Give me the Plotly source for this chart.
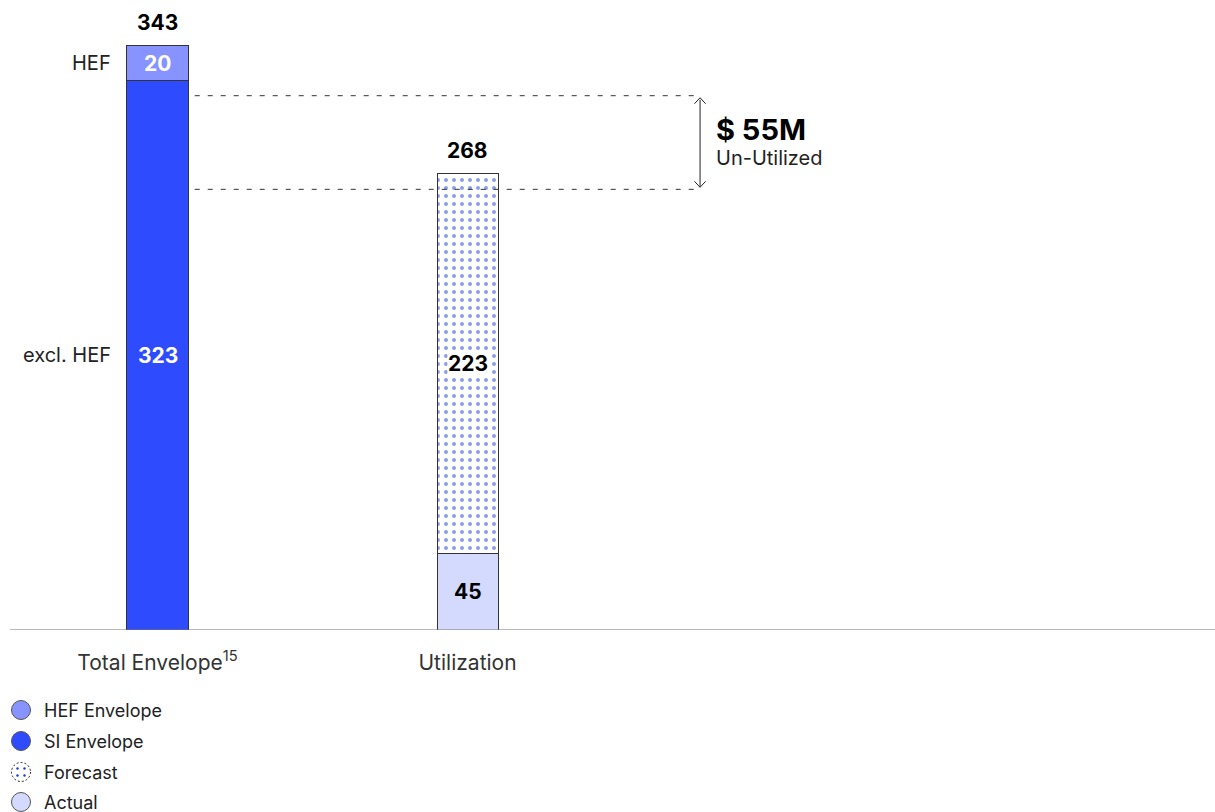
import plotly.graph_objects as go

categories = ["Total Envelope<sup>15</sup>", "Utilization"]
hef_envelope = [20, None]
si_envelope = [323, None]
actual = [None, 45]
forecast = [None, 223]
totals = [343, 268]
unutilized = 55

FONT = "Inter"
C_HEF = "#8794ff"
C_SI = "#2e4bfd"
C_ACT = "#d4dafe"
C_DOT = "#1c3acb"
C_EDGE = "#333333"

xs = [0, 1]
W = 0.197
fig = go.Figure()

fig.add_bar(x=xs, y=si_envelope, width=W, marker=dict(color=C_SI, line=dict(color=C_EDGE, width=1)),
            name="SI Envelope", showlegend=False)
fig.add_bar(x=xs, y=hef_envelope, width=W, marker=dict(color=C_HEF, line=dict(color=C_EDGE, width=1)),
            name="HEF Envelope", showlegend=False)
fig.add_bar(x=xs, y=actual, width=W, marker=dict(color=C_ACT, line=dict(color=C_EDGE, width=1)),
            name="Actual", showlegend=False)
fig.add_bar(x=xs, y=forecast, width=W,
            marker=dict(color="white", line=dict(color=C_EDGE, width=1),
                        pattern=dict(shape=".", fgcolor=C_DOT, bgcolor="white", size=8, solidity=0.2)),
            name="Forecast", showlegend=False)

NS = 21
ann = []
ann.append(dict(x=0, y=si_envelope[0] / 2, text=f"<b>{si_envelope[0]}</b>", showarrow=False,
                font=dict(color="white", size=NS, family=FONT)))
ann.append(dict(x=0, y=si_envelope[0] + hef_envelope[0] / 2, text=f"<b>{hef_envelope[0]}</b>", showarrow=False,
                font=dict(color="white", size=NS, family=FONT)))
ann.append(dict(x=1, y=actual[1] / 2, text=f"<b>{actual[1]}</b>", showarrow=False,
                font=dict(color="black", size=NS, family=FONT)))
ann.append(dict(x=1, y=actual[1] + forecast[1] / 2, text=f"<b>{forecast[1]}</b>", showarrow=False,
                font=dict(color="black", size=NS, family=FONT), bgcolor="white", borderpad=0))
for i, t in enumerate(totals):
    ann.append(dict(x=xs[i], y=t, text=f"<b>{t}</b>", showarrow=False, yanchor="middle", yshift=23,
                    font=dict(color="black", size=NS, family=FONT)))
ann.append(dict(x=-W / 2, y=si_envelope[0] + hef_envelope[0] / 2, text="HEF", showarrow=False, xanchor="right",
                xshift=-14, font=dict(color="#222", size=20, family=FONT)))
ann.append(dict(x=-W / 2, y=si_envelope[0] / 2, text="excl. HEF", showarrow=False, xanchor="right",
                xshift=-14, font=dict(color="#222", size=20, family=FONT)))

# bracket
off = 9.2
y_top = si_envelope[0] - off
y_bot = totals[1] - off
shapes = []
for yy in (y_top, y_bot):
    shapes.append(dict(type="line", xref="x", yref="y", x0=0.12, x1=1.75, y0=yy, y1=yy,
                       line=dict(color="#333", width=1, dash="5px,8px")))
ann.append(dict(x=1.75, y=y_bot + 1.5, ax=1.75, ay=y_top - 1.5, xref="x", yref="y", axref="x", ayref="y",
                showarrow=True, arrowhead=0, startarrowhead=0, arrowside="end+start", arrowwidth=1,
                arrowcolor="#222", text=""))
ymid = (y_top + y_bot) / 2
ann.append(dict(x=1.80, y=ymid, yshift=13.5, text=f"<b>$ {unutilized}M</b>", showarrow=False,
                xanchor="left", yanchor="middle", xshift=-2, font=dict(color="black", size=29, family=FONT)))
ann.append(dict(x=1.80, y=ymid, yshift=-15.5, text="Un-Utilized", showarrow=False,
                xanchor="left", yanchor="middle", xshift=-2, font=dict(color="#222", size=20, family=FONT)))

ppu = 630 / 370.0
for yy, d in ((y_top, 1), (y_bot, -1)):
    shapes.append(dict(type="path", xref="x", yref="y",
                       path=f"M {1.75 - 0.018},{yy - d * 6 / ppu - 1.2 * d} L 1.75,{yy - 1.2 * d} L {1.75 + 0.018},{yy - d * 6 / ppu - 1.2 * d}",
                       line=dict(color="#222", width=1)))

# legend (manual)
legend_items = [("HEF Envelope", C_HEF), ("SI Envelope", C_SI), ("Forecast", None), ("Actual", C_ACT)]
leg_y = [710, 741, 772, 802]
PH = 630.0
for (name, col), py in zip(legend_items, leg_y):
    yc = (PH - py) / PH
    r = 9.5
    x0 = 1.5
    if col is not None:
        shapes.append(dict(type="circle", xref="paper", yref="paper", xsizemode="pixel", ysizemode="pixel",
                           xanchor=0, yanchor=yc, x0=x0, x1=x0 + 2 * r, y0=-r, y1=r,
                           fillcolor=col, line=dict(color="#555", width=1)))
    else:
        shapes.append(dict(type="circle", xref="paper", yref="paper", xsizemode="pixel", ysizemode="pixel",
                           xanchor=0, yanchor=yc, x0=x0, x1=x0 + 2 * r, y0=-r, y1=r,
                           fillcolor="white", line=dict(color="#222", width=1, dash="2px,2px")))
        for dx, dy in ((-3.5, 3.5), (3.5, 3.5), (-3.5, -3.5), (3.5, -3.5)):
            cx = x0 + r + dx
            shapes.append(dict(type="circle", xref="paper", yref="paper", xsizemode="pixel", ysizemode="pixel",
                               xanchor=0, yanchor=yc, x0=cx - 1.2, x1=cx + 1.2, y0=dy - 1.2, y1=dy + 1.2,
                               fillcolor=C_DOT, line=dict(width=0)))
    ann.append(dict(xref="paper", yref="paper", x=0, y=yc, xshift=32, text=name, showarrow=False,
                    xanchor="left", yanchor="middle", font=dict(color="#222", size=18, family=FONT)))

fig.update_layout(
    barmode="stack",
    width=1215, height=812,
    margin=dict(l=10, r=0, t=0, b=182),
    plot_bgcolor="white", paper_bgcolor="white",
    showlegend=False,
    xaxis=dict(range=[-0.4758, 3.411], tickvals=xs, ticktext=categories, showgrid=False, zeroline=False,
               showline=False, ticks="outside", ticklen=14, tickcolor="rgba(0,0,0,0)",
               tickfont=dict(size=21, color="#333", family=FONT)),
    yaxis=dict(range=[0, 370], visible=False, showgrid=False, zeroline=False),
    shapes=shapes + [dict(type="line", xref="paper", yref="y", x0=0, x1=1, y0=0, y1=0,
                          line=dict(color="#777", width=1))],
    annotations=ann,
    font=dict(family=FONT),
)

fig.write_html("out.html")
